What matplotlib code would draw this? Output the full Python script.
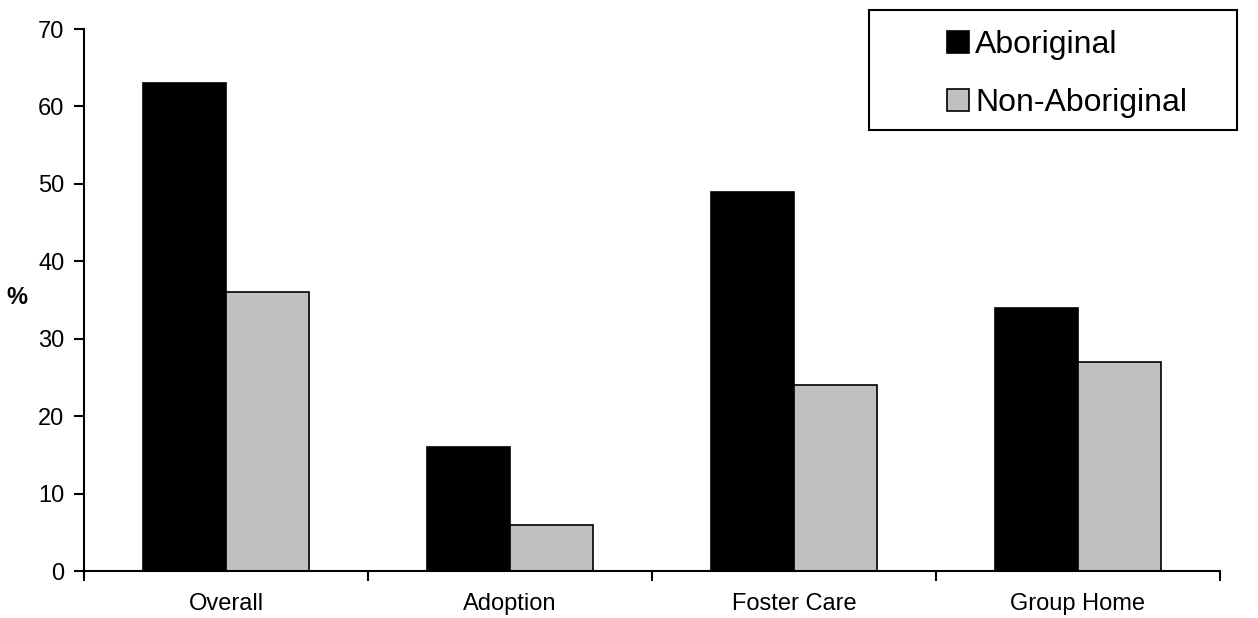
import matplotlib
matplotlib.use("Agg")
import matplotlib.pyplot as plt
from matplotlib.patches import Rectangle
import numpy as np

categories = ["Overall", "Adoption", "Foster Care", "Group Home"]
aboriginal = [63, 16, 49, 34]
non_aboriginal = [36, 6, 24, 27]
series_names = ["Aboriginal", "Non-Aboriginal"]

plt.rcParams['font.family'] = ['Liberation Sans', 'DejaVu Sans']

W, H = 1258, 618
fig = plt.figure(figsize=(W/100, H/100), dpi=100)
ax = fig.add_axes([84/W, (H-571)/H, (1220-84)/W, (571-29)/H])

x = np.arange(len(categories))
bw = 0.292
ax.bar(x - bw/2, aboriginal, bw, color='black', edgecolor='black', linewidth=1.2, label=series_names[0])
ax.bar(x + bw/2, non_aboriginal, bw, color='#c0c0c0', edgecolor='black', linewidth=1.2, label=series_names[1])

ax.set_xlim(-0.5, len(categories) - 0.5)
ax.set_ylim(0, 70)
ax.set_yticks(range(0, 71, 10))
ax.set_xticks(np.arange(-0.5, len(categories), 1.0))
ax.set_xticklabels([])
ax.set_xticks(x, minor=True)
ax.set_xticklabels(categories, minor=True)
ax.tick_params(axis='x', which='minor', length=0, pad=16, labelsize=17)
ax.tick_params(axis='x', which='major', length=7, width=1.5, direction='out')
ax.tick_params(axis='y', length=7, width=1.5, labelsize=17, pad=7)
for s in ['top', 'right']:
    ax.spines[s].set_visible(False)
for s in ['left', 'bottom']:
    ax.spines[s].set_linewidth(1.5)

fig.text(17/W, 1 - 298/H, "%", fontsize=17, fontweight='bold', ha='center', va='center')

fig.patches.append(Rectangle((869/W, 1 - 130/H), (1237-869)/W, 120/H,
                             transform=fig.transFigure, fill=False,
                             edgecolor='black', linewidth=1.5))
leg = ax.legend(loc='upper left', bbox_to_anchor=(947/W, 1 - 30/H),
                bbox_transform=fig.transFigure, fontsize=23,
                frameon=False, borderpad=0,
                labelspacing=0.88, handlelength=0.7, handleheight=0.7, handletextpad=0.18,
                borderaxespad=0)

fig.savefig("out.png", dpi=100)
